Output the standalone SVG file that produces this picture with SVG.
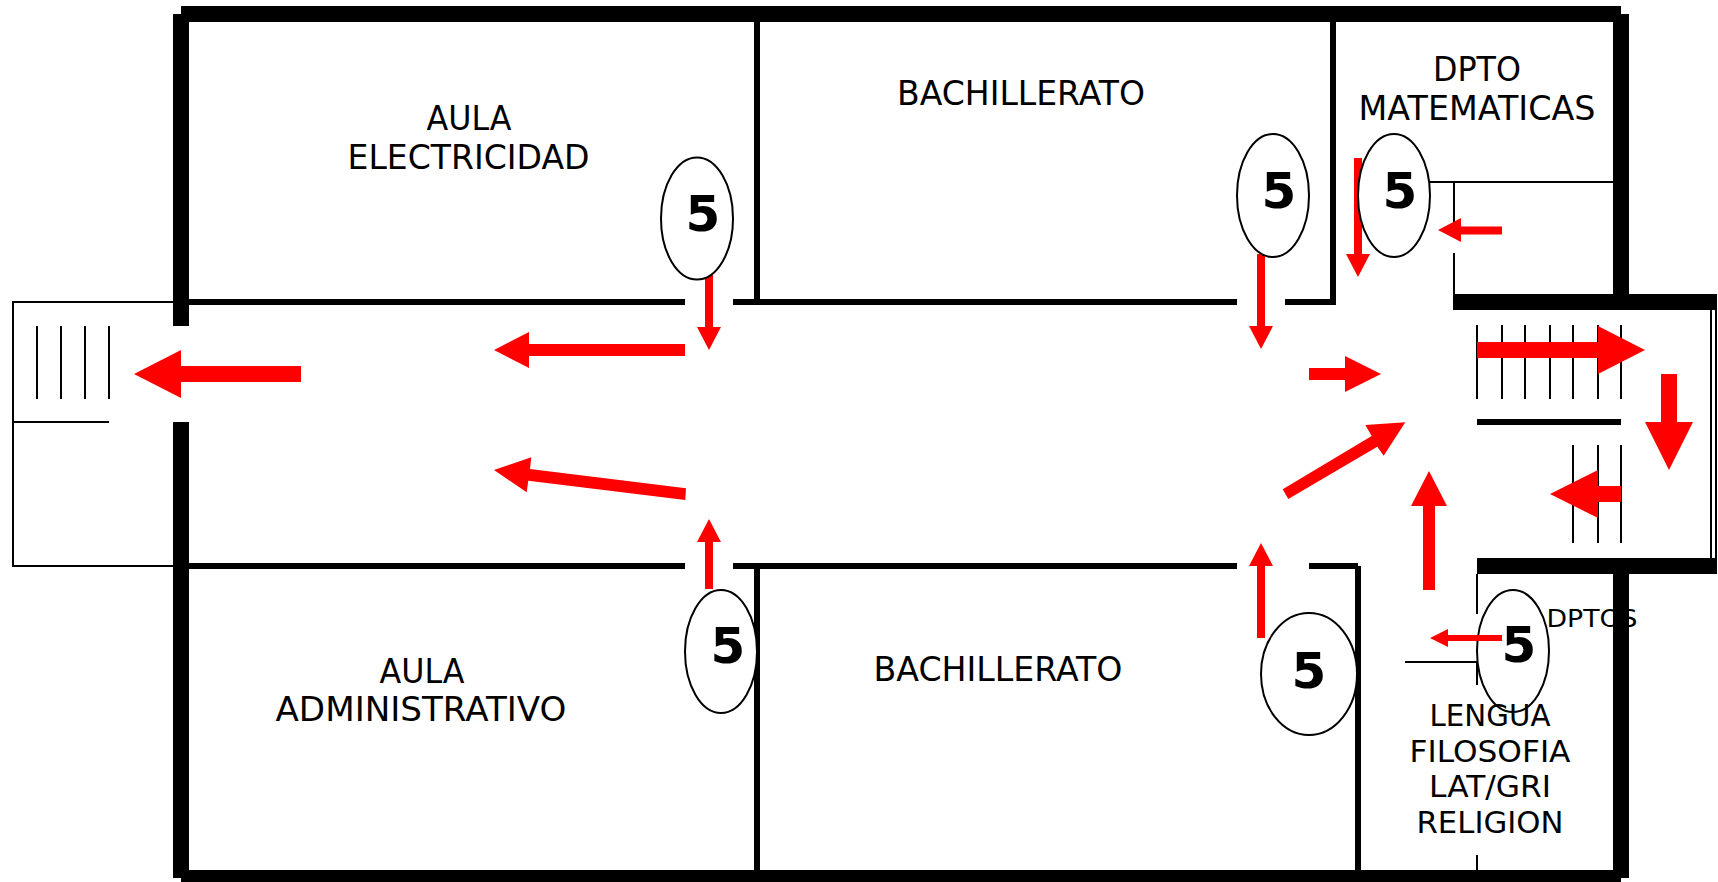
<svg xmlns="http://www.w3.org/2000/svg" width="1718" height="882" viewBox="0 0 1718 882">
<style>
.t{font-family:"DejaVu Sans",Verdana,sans-serif;font-size:33px;fill:#000;text-anchor:middle}
.s{font-size:30px}
.n{font-family:"DejaVu Sans",Verdana,sans-serif;font-size:50px;font-weight:bold;fill:#000;text-anchor:middle}
.thin{stroke:#000;stroke-width:2;fill:none}
.mid{stroke:#000;stroke-width:6;fill:none}
.thick{stroke:#000;stroke-width:16;fill:none}
.a{fill:#f00}
.e{fill:#fff;stroke:#000;stroke-width:2}
</style>
<rect width="1718" height="882" fill="#fff"/>
<g id="labels">
<text class="t" x="469" y="129.5" textLength="85" lengthAdjust="spacingAndGlyphs">AULA</text>
<text class="t" x="468.500" y="168.5" textLength="242" lengthAdjust="spacingAndGlyphs">ELECTRICIDAD</text>
<text class="t" x="1021" y="104.5" textLength="248" lengthAdjust="spacingAndGlyphs">BACHILLERATO</text>
<text class="t" x="1477" y="81" textLength="88" lengthAdjust="spacingAndGlyphs">DPTO</text>
<text class="t" x="1477" y="120" textLength="237" lengthAdjust="spacingAndGlyphs">MATEMATICAS</text>
<text class="t" x="422" y="683" textLength="85" lengthAdjust="spacingAndGlyphs">AULA</text>
<text class="t" x="421" y="721" textLength="291" lengthAdjust="spacingAndGlyphs">ADMINISTRATIVO</text>
<text class="t" x="998" y="681" textLength="249" lengthAdjust="spacingAndGlyphs">BACHILLERATO</text>
<text class="t" x="1592" y="627" style="font-size:25px" textLength="91" lengthAdjust="spacingAndGlyphs">DPTOS</text>
</g>
<g id="thin-lines">
<path class="thin" d="M173 302H13V566H173M13 422H109"/>
<path class="thin" d="M37 326V399M61 326V399M85 326V399M109 326V399"/>
<path class="thin" d="M1429 182H1613M1454 182V222M1454 253V302"/>
<path class="thin" d="M1477 325V399M1502 325V399M1525 325V399M1550 325V399M1573 325V399M1598 325V399M1621 325V399"/>
<path class="thin" d="M1573 445V543M1598 445V543M1621 445V543"/>
<path class="thin" d="M1711 308V560M1716 302V566"/>
<path class="thin" d="M1477 574V614M1405 662H1477M1477 662V685M1477 855V870"/>
</g>
<g id="walls">
<path class="thick" d="M181 14H1621M1621 14V302M181 878H1621M1621 574V878"/>
<path class="thick" d="M181 14V326M181 422V878"/>
<path class="thick" d="M1453 302H1717M1477 566H1717"/>
<path class="mid" d="M189 302H685M733 302H1237M1285 302H1336M757 22V302M1333 22V302"/>
<path class="mid" d="M189 566H685M733 566H1237M1309 566H1358M757 566V870M1358 566V870M1477 422H1621"/>
</g>
<g id="node-6"><ellipse class="e" cx="1513" cy="651" rx="36" ry="61" style="fill:none"/><text class="n" x="1519" y="662">5</text></g>
<g id="connectors">
<polygon class="a" points="134,374 181,350 181,366 301,366 301,382 181,382 181,398"/>
<polygon class="a" points="494,350 529,332 529,344 685,344 685,356 529,356 529,368"/>
<polygon class="a" points="705,275 713,275 713,327 721,327 709,350 697,327 705,327"/>
<polygon class="a" points="494,470 531.3,457.3 530,469 686,488.3 685.3,500 528.3,480.7 526.7,492.3"/>
<polygon class="a" points="709,519 721,542 713,542 713,589 705,589 705,542 697,542"/>
<polygon class="a" points="1257,254 1265,254 1265,326 1273,326 1261,349 1249,326 1257,326"/>
<polygon class="a" points="1354,158 1362,158 1362,254 1370,254 1358,277 1346,254 1354,254"/>
<polygon class="a" points="1438,230 1461,218 1461,226.500 1502,226.500 1502,234.500 1461,234.500 1461,242"/>
<polygon class="a" points="1381,374 1345,392 1345,380 1309,380 1309,368 1345,368 1345,356"/>
<polygon class="a" points="1405.3,422.3 1365.3,425 1371.7,436 1282.7,489.3 1288.3,499 1377.3,446.7 1383.7,455.7"/>
<polygon class="a" points="1429,471 1447,506 1435,506 1435,590 1423,590 1423,506 1411,506"/>
<polygon class="a" points="1261,543 1273,566 1265,566 1265,638 1257,638 1257,566 1249,566"/>
<polygon class="a" points="1645,350 1598,374 1598,358 1477,358 1477,342 1598,342 1598,326"/>
<polygon class="a" points="1669,470 1645,422 1661,422 1661,374 1677,374 1677,422 1693,422"/>
<polygon class="a" points="1550,494 1598,470 1598,486 1621,486 1621,502 1598,502 1598,518"/>
<polygon class="a" points="1430,638 1448,629 1448,635 1502,635 1502,641 1448,641 1448,647"/>
</g>
<g id="node-1"><ellipse class="e" cx="697" cy="218.5" rx="36" ry="61"/><text class="n" x="703" y="231">5</text></g>
<g id="node-2"><ellipse class="e" cx="1273" cy="195.5" rx="36" ry="61.5"/><text class="n" x="1279" y="208">5</text></g>
<g id="node-3"><ellipse class="e" cx="1394" cy="195.5" rx="36" ry="61.5"/><text class="n" x="1400" y="208">5</text></g>
<g id="node-4"><ellipse class="e" cx="721" cy="651.5" rx="36" ry="61.5"/><text class="n" x="728" y="663">5</text></g>
<g id="node-5"><ellipse class="e" cx="1309" cy="674" rx="48" ry="61"/><text class="n" x="1309" y="688">5</text></g>
<g id="labels-2">
<text class="t s" x="1490" y="726" textLength="121" lengthAdjust="spacingAndGlyphs">LENGUA</text>
<text class="t s" x="1490" y="761.5" textLength="161" lengthAdjust="spacingAndGlyphs">FILOSOFIA</text>
<text class="t s" x="1490" y="796.5" textLength="122" lengthAdjust="spacingAndGlyphs">LAT/GRI</text>
<text class="t s" x="1490" y="833" textLength="147" lengthAdjust="spacingAndGlyphs">RELIGION</text>
</g>
</svg>
